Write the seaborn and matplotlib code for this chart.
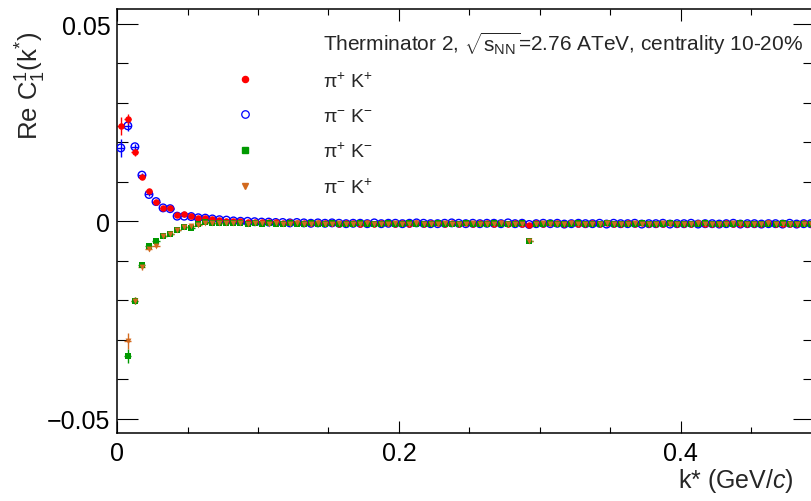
import numpy as np
import pandas as pd
import matplotlib
matplotlib.use("Agg")
import matplotlib.pyplot as plt
import seaborn as sns
from matplotlib.ticker import MultipleLocator, FuncFormatter
from matplotlib.lines import Line2D

# ---------------- data ----------------
FIRST_BIN_CENTRE = 0.0025   # GeV/c
BIN_WIDTH = 0.005           # GeV/c

PIP_KP = [0.0241, 0.0259, 0.0175, 0.0112, 0.0077, 0.0050, 0.0034, 0.0033, 0.0016, 0.0018,
          0.0013, 0.0008, 0.0008, 0.0005, 0.0004, 0.0002, 0.0001, 0.0000, -0.0001, -0.0002,
          -0.0002, -0.0003, -0.0002, -0.0004, -0.0003, -0.0004, -0.0005, -0.0004, -0.0005, -0.0004,
          -0.0005, -0.0006, -0.0005, -0.0004, -0.0006, -0.0005, -0.0006, -0.0005, -0.0004, -0.0006,
          -0.0005, -0.0006, -0.0005, -0.0006, -0.0004, -0.0005, -0.0006, -0.0005, -0.0006, -0.0005,
          -0.0006, -0.0005, -0.0004, -0.0006, -0.0005, -0.0006, -0.0005, -0.0006, -0.0010, -0.0005,
          -0.0006, -0.0005, -0.0004, -0.0006, -0.0005, -0.0006, -0.0007, -0.0005, -0.0006, -0.0005,
          -0.0006, -0.0007, -0.0005, -0.0006, -0.0005, -0.0006, -0.0007, -0.0006, -0.0005, -0.0006,
          -0.0007, -0.0006, -0.0005, -0.0006, -0.0007, -0.0006, -0.0005, -0.0007, -0.0006, -0.0006,
          -0.0007, -0.0006, -0.0005, -0.0007, -0.0006, -0.0007, -0.0006, -0.0005, -0.0007]

PIM_KM = [0.0186, 0.0242, 0.0189, 0.0117, 0.0068, 0.0050, 0.0034, 0.0032, 0.0013, 0.0013,
          0.0012, 0.0009, 0.0008, 0.0006, 0.0004, 0.0003, 0.0001, 0.0000, 0.0000, -0.0001,
          -0.0002, -0.0002, -0.0003, -0.0003, -0.0004, -0.0003, -0.0004, -0.0005, -0.0004, -0.0005,
          -0.0004, -0.0005, -0.0006, -0.0005, -0.0005, -0.0006, -0.0004, -0.0006, -0.0005, -0.0005,
          -0.0006, -0.0005, -0.0004, -0.0005, -0.0006, -0.0006, -0.0005, -0.0004, -0.0005, -0.0006,
          -0.0005, -0.0006, -0.0005, -0.0005, -0.0006, -0.0004, -0.0006, -0.0005, -0.0008, -0.0006,
          -0.0005, -0.0006, -0.0005, -0.0007, -0.0006, -0.0005, -0.0006, -0.0006, -0.0005, -0.0007,
          -0.0005, -0.0006, -0.0006, -0.0005, -0.0007, -0.0006, -0.0006, -0.0005, -0.0007, -0.0006,
          -0.0006, -0.0005, -0.0007, -0.0006, -0.0006, -0.0007, -0.0006, -0.0005, -0.0007, -0.0006,
          -0.0006, -0.0007, -0.0006, -0.0006, -0.0007, -0.0005, -0.0007, -0.0006, -0.0006]

PIP_KM = [np.nan, -0.0342, -0.0201, -0.0112, -0.0062, -0.0049, -0.0036, -0.0032, -0.0022, -0.0015,
          -0.0017, -0.0007, -0.0003, -0.0004, -0.0004, -0.0005, -0.0004, -0.0005, -0.0006, -0.0005,
          -0.0006, -0.0005, -0.0006, -0.0007, -0.0005, -0.0006, -0.0006, -0.0005, -0.0007, -0.0006,
          -0.0005, -0.0006, -0.0007, -0.0006, -0.0005, -0.0006, -0.0006, -0.0007, -0.0005, -0.0006,
          -0.0006, -0.0005, -0.0007, -0.0006, -0.0006, -0.0005, -0.0006, -0.0007, -0.0006, -0.0005,
          -0.0006, -0.0007, -0.0006, -0.0005, -0.0006, -0.0006, -0.0007, -0.0005, -0.0050, -0.0006,
          -0.0006, -0.0005, -0.0007, -0.0006, -0.0006, -0.0005, -0.0006, -0.0007, -0.0006, -0.0005,
          -0.0006, -0.0007, -0.0006, -0.0006, -0.0005, -0.0007, -0.0006, -0.0006, -0.0005, -0.0007,
          -0.0006, -0.0006, -0.0007, -0.0005, -0.0006, -0.0007, -0.0006, -0.0006, -0.0005, -0.0007,
          -0.0006, -0.0006, -0.0007, -0.0006, -0.0005, -0.0007, -0.0006, -0.0006, -0.0007]

PIM_KP = [np.nan, -0.0303, -0.0201, -0.0117, -0.0069, -0.0062, -0.0036, -0.0032, -0.0022, -0.0014,
          -0.0012, -0.0009, -0.0005, -0.0005, -0.0004, -0.0005, -0.0005, -0.0004, -0.0006, -0.0005,
          -0.0005, -0.0006, -0.0005, -0.0006, -0.0006, -0.0005, -0.0007, -0.0006, -0.0005, -0.0006,
          -0.0006, -0.0005, -0.0006, -0.0007, -0.0006, -0.0005, -0.0006, -0.0006, -0.0007, -0.0005,
          -0.0006, -0.0006, -0.0005, -0.0007, -0.0006, -0.0006, -0.0005, -0.0006, -0.0007, -0.0006,
          -0.0005, -0.0006, -0.0006, -0.0007, -0.0005, -0.0006, -0.0006, -0.0007, -0.0049, -0.0006,
          -0.0005, -0.0006, -0.0007, -0.0006, -0.0005, -0.0006, -0.0007, -0.0006, -0.0006, -0.0005,
          -0.0007, -0.0006, -0.0006, -0.0005, -0.0006, -0.0007, -0.0006, -0.0005, -0.0006, -0.0007,
          -0.0006, -0.0006, -0.0005, -0.0007, -0.0006, -0.0006, -0.0007, -0.0005, -0.0006, -0.0006,
          -0.0007, -0.0006, -0.0005, -0.0006, -0.0007, -0.0006, -0.0006, -0.0007, -0.0006]

# statistical errors of the first bins (later bins hidden under markers)
PIP_KP_ERR = [0.0023, 0.0013, 0.0009, 0.0006, 0.0005, 0.0004, 0.0003, 0.0003, 0.0002, 0.0002]
PIM_KM_ERR = [0.0023, 0.0012, 0.0008, 0.0006, 0.0005, 0.0004, 0.0003, 0.0003, 0.0002, 0.0002]
PIP_KM_ERR = [0.0, 0.0018, 0.0009, 0.0006, 0.0005, 0.0004, 0.0003, 0.0003, 0.0002, 0.0002]
PIM_KP_ERR = [0.0, 0.0020, 0.0009, 0.0007, 0.0005, 0.0004, 0.0003, 0.0003, 0.0002, 0.0002]

LABELS = [r"$\mathrm{\pi}^{+}$ K$^{+}$", r"$\mathrm{\pi}^{-}$ K$^{-}$",
          r"$\mathrm{\pi}^{+}$ K$^{-}$", r"$\mathrm{\pi}^{-}$ K$^{+}$"]
HEADER = r"Therminator 2, $\sqrt{\mathrm{s}_{\mathrm{NN}}}$=2.76 ATeV, centrality 10-20%"

# ---------------- style ----------------
sns.set_theme(style="ticks")
plt.rcParams["font.family"] = ["Liberation Sans", "DejaVu Sans"]
plt.rcParams["mathtext.fontset"] = "custom"
plt.rcParams["mathtext.rm"] = "Liberation Sans"
plt.rcParams["mathtext.it"] = "Liberation Sans:italic"
plt.rcParams["mathtext.bf"] = "Liberation Sans:bold"
plt.rcParams["axes.unicode_minus"] = True

W, H = 812, 502
fig = plt.figure(figsize=(W / 100, H / 100), dpi=100)
fig.patch.set_facecolor("white")

ax_left, ax_right, ax_top, ax_bot = 117.3, 814.3, 9.5, 434.0
ax = fig.add_axes([ax_left / W, 1 - ax_bot / H, (ax_right - ax_left) / W, (ax_bot - ax_top) / H])
ax.set_facecolor("white")

n = len(PIP_KP)
k = np.round(FIRST_BIN_CENTRE + BIN_WIDTH * np.arange(n), 4)

def full_err(head):
    e = np.zeros(n)
    e[:len(head)] = head
    return e

series = [
    ("pim_km", PIM_KM, PIM_KM_ERR, "#0000ff", "o", True),
    ("pip_kp", PIP_KP, PIP_KP_ERR, "#ff0000", "o", False),
    ("pip_km", PIP_KM, PIP_KM_ERR, "#009900", "s", False),
    ("pim_kp", PIM_KP, PIM_KP_ERR, "#d2691e", "v", False),
]
sizes = {"pim_km": 30, "pip_kp": 22, "pip_km": 22, "pim_kp": 18}

for name, vals, err, col, mk, hollow in series:
    df = pd.DataFrame({"k": k, "v": vals})
    ax.errorbar(df["k"], df["v"], xerr=BIN_WIDTH / 2, yerr=full_err(err), fmt="none",
                ecolor=col, elinewidth=1.0, capsize=0, zorder=2)
    sns.scatterplot(data=df, x="k", y="v", ax=ax, color=col, marker=mk, s=sizes[name],
                    linewidth=0 if not hollow else 1.0, zorder=3, legend=False)
    coll = ax.collections[-1]
    if hollow:
        coll.set_facecolor("none")
        coll.set_edgecolor(col)
        coll.set_linewidth(1.0)

ax.set_xlim(0, (ax_right - ax_left) / 1408.0)
ax.set_ylim(-0.05365, 0.05393)
ax.set_xlabel("")
ax.set_ylabel("")

ax.xaxis.set_major_locator(MultipleLocator(0.2))
ax.xaxis.set_minor_locator(MultipleLocator(0.05))
ax.yaxis.set_major_locator(MultipleLocator(0.05))
ax.yaxis.set_minor_locator(MultipleLocator(0.01))

def fmt(v, pos):
    if abs(v) < 1e-9:
        return "0"
    return ("%g" % v).replace("-", "\u2212")

ax.xaxis.set_major_formatter(FuncFormatter(fmt))
ax.yaxis.set_major_formatter(FuncFormatter(fmt))

ax.tick_params(axis="both", which="both", direction="in", top=True, right=True,
               colors="black", width=0.8, labelsize=18)
ax.tick_params(axis="y", which="major", length=15.0, pad=5)
ax.tick_params(axis="y", which="minor", length=7.8)
ax.tick_params(axis="x", which="major", length=8.8, pad=6)
ax.tick_params(axis="x", which="minor", length=4.4)
for side, sp in ax.spines.items():
    sp.set_visible(True)
    sp.set_color("black")
    sp.set_linewidth(1.1)

# axis titles
fig.text(31 / W, 1 - 32 / H, r"Re C$_{1}^{1}$(k$^{*}$)", rotation=90, ha="center", va="top",
         fontsize=18.5)
fig.text(794 / W, 1 - 481 / H, r"k* (GeV/$c$)", ha="right", va="center", fontsize=18)

# header text
fig.text(323 / W, 1 - 44 / H, HEADER, ha="left", va="center", fontsize=15)

# legend
handles = [
    Line2D([], [], ls="none", marker="o", color="#ff0000", markersize=4.4),
    Line2D([], [], ls="none", marker="o", markerfacecolor="none", markeredgecolor="#0000ff",
           markeredgewidth=0.9, markersize=5.4),
    Line2D([], [], ls="none", marker="s", color="#009900", markersize=4.2),
    Line2D([], [], ls="none", marker="v", color="#d2691e", markersize=4.0),
]
leg = ax.legend(handles, LABELS, loc="upper left",
                bbox_to_anchor=(235.6 / W, 1 - 72 / H), bbox_transform=fig.transFigure,
                frameon=False, fontsize=14, handlelength=1.0, handletextpad=3.5,
                labelspacing=0.86, borderpad=0, borderaxespad=0)

fig.savefig("out.png", dpi=100, facecolor="white")
